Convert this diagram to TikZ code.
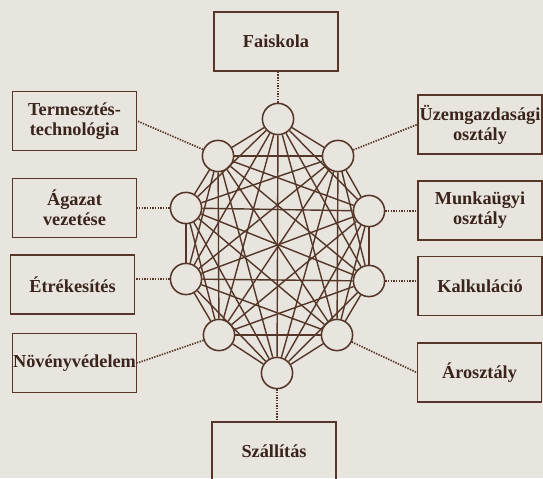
\documentclass[tikz,border=0pt]{standalone}
\usepackage{fontspec}
\setmainfont{Liberation Serif}[BoldFont={Liberation Serif Bold}]
\newfontfamily\boxfont{Liberation Serif Bold}
\definecolor{paper}{HTML}{E7E5DD}
\definecolor{ink}{HTML}{553629}
\definecolor{txt}{HTML}{3A241C}

\begin{document}
\begin{tikzpicture}[x=0.025cm, y=-0.025cm,
  box/.style={draw=ink, line width=1.1pt, minimum width=3.1cm, minimum height=1.47cm,
    inner sep=0pt, align=center, text=txt, font=\fontsize{13}{14.2}\boxfont},
  hub/.style={circle, draw=ink, line width=1.1pt, fill=paper, minimum size=0.78cm, inner sep=0pt},
  wire/.style={draw=ink, line width=1pt},
  link/.style={draw=ink, line width=1.2pt, dash pattern=on 1pt off 0.9pt}]
  \useasboundingbox (0, 0) rectangle (543, 478);
  \fill[paper] (0, 0) rectangle (543, 478);

  \node[hub] (p0) at (278, 119) {};
  \node[hub] (p1) at (338, 156) {};
  \node[hub] (p2) at (369, 211) {};
  \node[hub] (p3) at (369, 281) {};
  \node[hub] (p4) at (337, 335) {};
  \node[hub] (p5) at (277, 373) {};
  \node[hub] (p6) at (219, 335) {};
  \node[hub] (p7) at (186, 279) {};
  \node[hub] (p8) at (186, 208) {};
  \node[hub] (p9) at (218, 156) {};

  \foreach \i in {0,...,8} {
    \pgfmathtruncatemacro\nxt{\i+1}
    \foreach \j in {\nxt,...,9}
      \draw[wire] (p\i) -- (p\j);
  }

  \node[box] (faiskola) at (276, 41.5) {Faiskola};
  \node[box] (termesztes) at (74.5, 121) {Termesztés-\\technológia};
  \node[box] (agazat) at (74.5, 208) {Ágazat\\vezetése};
  \node[box] (etrekesites) at (72.5, 284.5) {Étrékesítés};
  \node[box] (novenyvedelem) at (74.5, 363) {Növényvédelem};
  \node[box] (szallitas) at (274, 451.5) {Szállítás};
  \node[box] (arosztaly) at (479.5, 372.5) {Árosztály};
  \node[box] (kalkulacio) at (480, 286) {Kalkuláció};
  \node[box] (munkaugyi) at (480, 210.5) {Munkaügyi\\osztály};
  \node[box] (uzemgazd) at (480, 124.5) {Üzemgazdasági\\osztály};

  \draw[link] (p0) -- (p0 |- faiskola.south);
  \draw[link] (p1) -- (uzemgazd.west);
  \draw[link] (p2) -- (p2 -| munkaugyi.west);
  \draw[link] (p3) -- (p3 -| kalkulacio.west);
  \draw[link] (p4) -- (arosztaly.west);
  \draw[link] (p5) -- (p5 |- szallitas.north);
  \draw[link] (p6) -- (novenyvedelem.east);
  \draw[link] (p7) -- (p7 -| etrekesites.east);
  \draw[link] (p8) -- (p8 -| agazat.east);
  \draw[link] (p9) -- (termesztes.east);
\end{tikzpicture}
\end{document}
